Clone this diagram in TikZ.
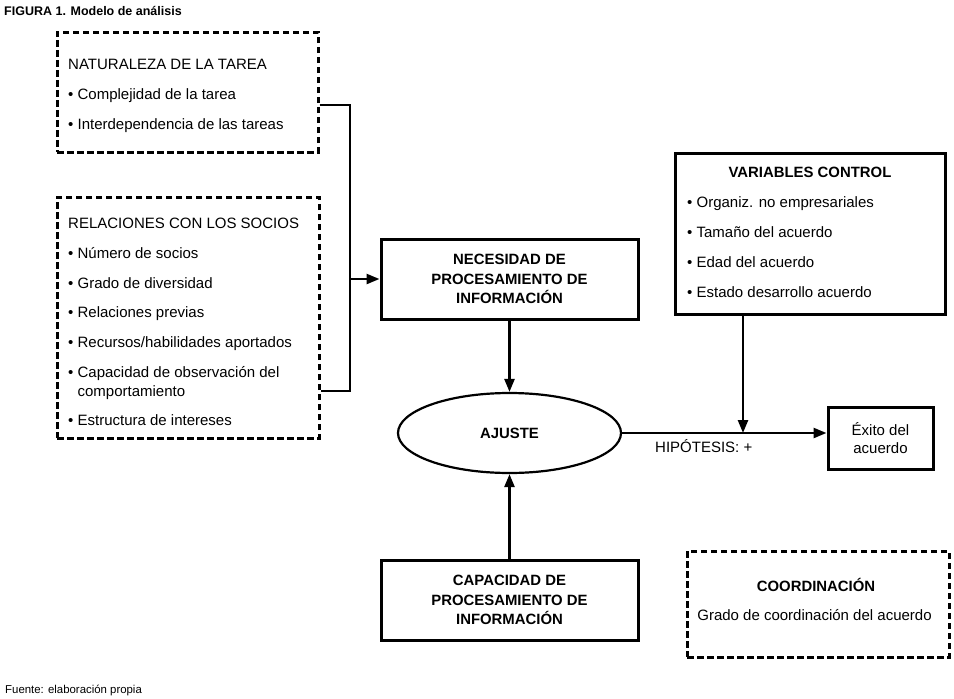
\documentclass[tikz,border=0pt]{standalone}
\usepackage{fontspec}
\setmainfont{Liberation Sans}
\usetikzlibrary{shapes,arrows.meta,positioning}

\newcommand{\rfont}{\fontsize{15}{17.5}\selectfont}
\newcommand{\bfont}{\fontsize{14.9}{19.5}\selectfont\bfseries}

\begin{document}
\begin{tikzpicture}[x=1pt,y=-1pt,
    every node/.style={inner sep=0pt},
    dbox/.style={draw,line width=3pt,dash pattern=on 6.5pt off 3.5pt},
    sbox/.style={draw,line width=3pt},
    arr/.style={line width=2.5pt,-{Triangle[length=13pt,width=10pt]}},
    lbl/.style={anchor=base west,font=\rfont},
    hdr/.style={anchor=base,font=\bfont}]
		\useasboundingbox (0,0) rectangle (954,699);
		% titulo y fuente
		\node[anchor=base west,font=\fontsize{12.5}{14}\selectfont\bfseries] (titulo) at (4,15) {FIGURA 1. Modelo de análisis};
		\node[anchor=base west,font=\fontsize{11.4}{13}\selectfont] (fuente) at (5,693) {Fuente: elaboración propia};
		% naturaleza de la tarea
		\node[dbox,minimum width=261pt,minimum height=120pt] (tarea) at (187.5,92) {};
		\node[lbl] (tarea0) at (68,69) {NATURALEZA DE LA TAREA};
		\node[lbl] (tarea1) at (68,99) {• Complejidad de la tarea};
		\node[lbl] (tarea2) at (68,129) {• Interdependencia de las tareas};
		% relaciones con los socios
		\node[dbox,minimum width=262pt,minimum height=241pt] (socios) at (188,317.5) {};
		\node[lbl] (socios0) at (68,228) {RELACIONES CON LOS SOCIOS};
		\node[lbl] (socios1) at (68,258) {• Número de socios};
		\node[lbl] (socios2) at (68,288) {• Grado de diversidad};
		\node[lbl] (socios3) at (68,317) {• Relaciones previas};
		\node[lbl] (socios4) at (68,347) {• Recursos/habilidades aportados};
		\node[lbl] (socios5) at (68,377) {• Capacidad de observación del};
		\node[lbl] (socios5b) at (68,396) {\phantom{•} comportamiento};
		\node[lbl] (socios6) at (68,425) {• Estructura de intereses};
		% cajas centrales
		\node[sbox,minimum width=257pt,minimum height=80pt,align=center,font=\bfont] (necesidad) at (509.5,279) {NECESIDAD DE\\PROCESAMIENTO DE\\INFORMACIÓN};
		\node[draw,ellipse,line width=2.2pt,minimum width=223pt,minimum height=80pt,font=\bfont] (ajuste) at (509.5,433) {AJUSTE};
		\node[sbox,minimum width=257pt,minimum height=80pt,align=center,font=\bfont] (capacidad) at (509.5,600) {CAPACIDAD DE\\PROCESAMIENTO DE\\INFORMACIÓN};
		% variables control
		\node[sbox,minimum width=270pt,minimum height=161pt] (control) at (810,233.5) {};
		\node[hdr] (control0) at (810,177) {VARIABLES CONTROL};
		\node[lbl] (control1) at (687,207) {• Organiz. no empresariales};
		\node[lbl] (control2) at (687,237) {• Tamaño del acuerdo};
		\node[lbl] (control3) at (687,267) {• Edad del acuerdo};
		\node[lbl] (control4) at (687,297) {• Estado desarrollo acuerdo};
		% exito
		\node[sbox,minimum width=105pt,minimum height=62pt,align=center,font=\rfont] (exito) at (880.5,438) {Éxito del\\acuerdo};
		% coordinacion
		\node[dbox,minimum width=262pt,minimum height=106pt] (coord) at (818,604) {};
		\node[hdr] (coord0) at (816,591) {COORDINACIÓN};
		\node[anchor=base,font=\rfont] (coord1) at (814.5,620) {Grado de coordinación del acuerdo};
		% conectores
		\coordinate (llavearr) at (350,105);
		\coordinate (llaveab) at (350,391);
		\draw[line width=1.5pt] (tarea.east |- llavearr) -- (llavearr) -- (llaveab) -- (socios.east |- llaveab);
		\draw[arr] (llavearr |- necesidad.west) -- (necesidad.west);
		\draw[arr] (necesidad) -- (ajuste);
		\draw[arr] (capacidad) -- (ajuste);
		\draw[arr] (ajuste.east) -- (ajuste.east -| exito.west);
		\coordinate (union) at (743,433);
		\draw[arr] (control.south -| union) -- (union);
		\node[lbl] (hipotesis) at (655,452) {HIPÓTESIS: +};
\end{tikzpicture}
\end{document}
